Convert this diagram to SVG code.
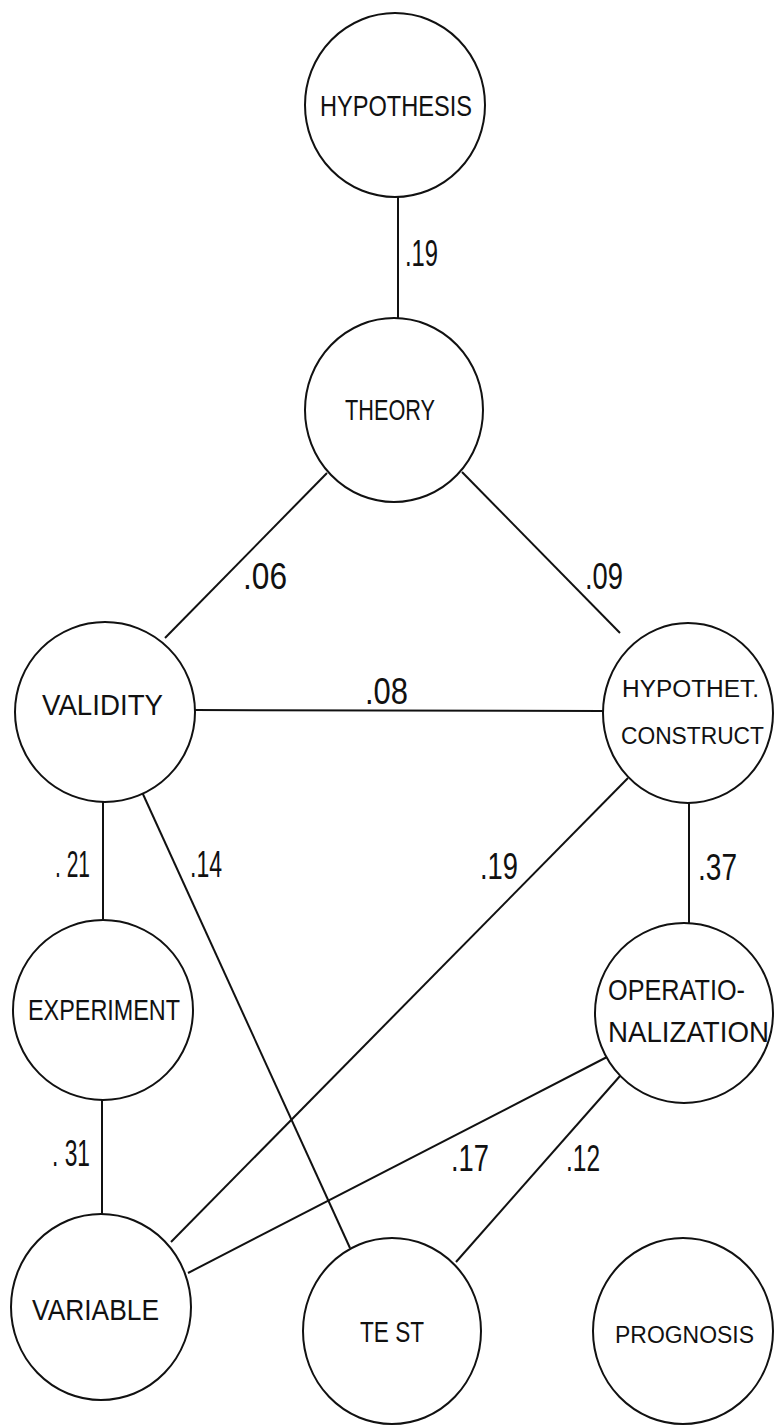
<svg xmlns="http://www.w3.org/2000/svg" width="774" height="1425" viewBox="0 0 774 1425">
<style>
.n{fill:#fff;stroke:#111;stroke-width:2}
.c line{stroke:#111;stroke-width:2}
.t{font-family:"Liberation Sans",Arial,sans-serif;font-size:29px;fill:#111}
.s{font-size:23.5px}
.l{font-family:"Liberation Sans",Arial,sans-serif;font-size:37px;fill:#111}
</style>
<rect width="774" height="1425" fill="#fff"/>
<g id="connectors" class="c">
<line x1="398" y1="197" x2="398" y2="318"/>
<line x1="327" y1="473" x2="165" y2="638"/>
<line x1="462" y1="472" x2="620" y2="633"/>
<line x1="195" y1="710" x2="603" y2="711"/>
<line x1="103" y1="802" x2="103" y2="920"/>
<line x1="142" y1="792" x2="350" y2="1248"/>
<line x1="628" y1="778" x2="171" y2="1242"/>
<line x1="689" y1="803" x2="689" y2="923"/>
<line x1="102" y1="1100" x2="102" y2="1214"/>
<line x1="607" y1="1057" x2="188" y2="1273"/>
<line x1="620" y1="1076" x2="456" y2="1262"/>
<text class="l" x="405" y="266" textLength="33" lengthAdjust="spacingAndGlyphs">.19</text>
<text class="l" x="243" y="589" textLength="44" lengthAdjust="spacingAndGlyphs">.06</text>
<text class="l" x="585" y="589" textLength="38" lengthAdjust="spacingAndGlyphs">.09</text>
<text class="l" x="365" y="704" textLength="43" lengthAdjust="spacingAndGlyphs">.08</text>
<text class="l" x="55" y="877" textLength="35" lengthAdjust="spacingAndGlyphs">. 21</text>
<text class="l" x="190" y="877" textLength="32" lengthAdjust="spacingAndGlyphs">.14</text>
<text class="l" x="480" y="879" textLength="38" lengthAdjust="spacingAndGlyphs">.19</text>
<text class="l" x="698" y="880" textLength="39" lengthAdjust="spacingAndGlyphs">.37</text>
<text class="l" x="52" y="1166" textLength="38" lengthAdjust="spacingAndGlyphs">. 31</text>
<text class="l" x="451" y="1171" textLength="38" lengthAdjust="spacingAndGlyphs">.17</text>
<text class="l" x="566" y="1171" textLength="34" lengthAdjust="spacingAndGlyphs">.12</text>
</g>
<g id="hypothesis"><ellipse class="n" cx="395" cy="105" rx="90" ry="92"/><text class="t" x="320" y="116" textLength="152" lengthAdjust="spacingAndGlyphs">HYPOTHESIS</text></g>
<g id="theory"><ellipse class="n" cx="394" cy="410" rx="89" ry="92"/><text class="t" x="345" y="420" textLength="90" lengthAdjust="spacingAndGlyphs">THEORY</text></g>
<g id="validity"><ellipse class="n" cx="105" cy="712" rx="90" ry="90"/><text class="t" x="42" y="715" textLength="121" lengthAdjust="spacingAndGlyphs">VALIDITY</text></g>
<g id="hypothet-construct"><ellipse class="n" cx="688" cy="713" rx="85" ry="90"/><text class="t s" x="622" y="697" textLength="137" lengthAdjust="spacingAndGlyphs">HYPOTHET.</text><text class="t s" x="621" y="744" textLength="143" lengthAdjust="spacingAndGlyphs">CONSTRUCT</text></g>
<g id="experiment"><ellipse class="n" cx="103" cy="1010" rx="90" ry="90"/><text class="t" x="28" y="1020" textLength="152" lengthAdjust="spacingAndGlyphs">EXPERIMENT</text></g>
<g id="operationalization"><ellipse class="n" cx="684" cy="1013" rx="89" ry="90"/><text class="t" x="608" y="1000" textLength="137" lengthAdjust="spacingAndGlyphs">OPERATIO-</text><text class="t" x="608" y="1042" textLength="161" lengthAdjust="spacingAndGlyphs">NALIZATION</text></g>
<g id="variable"><ellipse class="n" cx="101" cy="1307" rx="90" ry="93"/><text class="t" x="32" y="1320" textLength="127" lengthAdjust="spacingAndGlyphs">VARIABLE</text></g>
<g id="test"><ellipse class="n" cx="392" cy="1331" rx="89" ry="93"/><text class="t" x="360" y="1342" textLength="64" lengthAdjust="spacingAndGlyphs">TE ST</text></g>
<g id="prognosis"><ellipse class="n" cx="683" cy="1331" rx="90" ry="93"/><text class="t s" x="615" y="1343" textLength="139" lengthAdjust="spacingAndGlyphs">PROGNOSIS</text></g>
</svg>
